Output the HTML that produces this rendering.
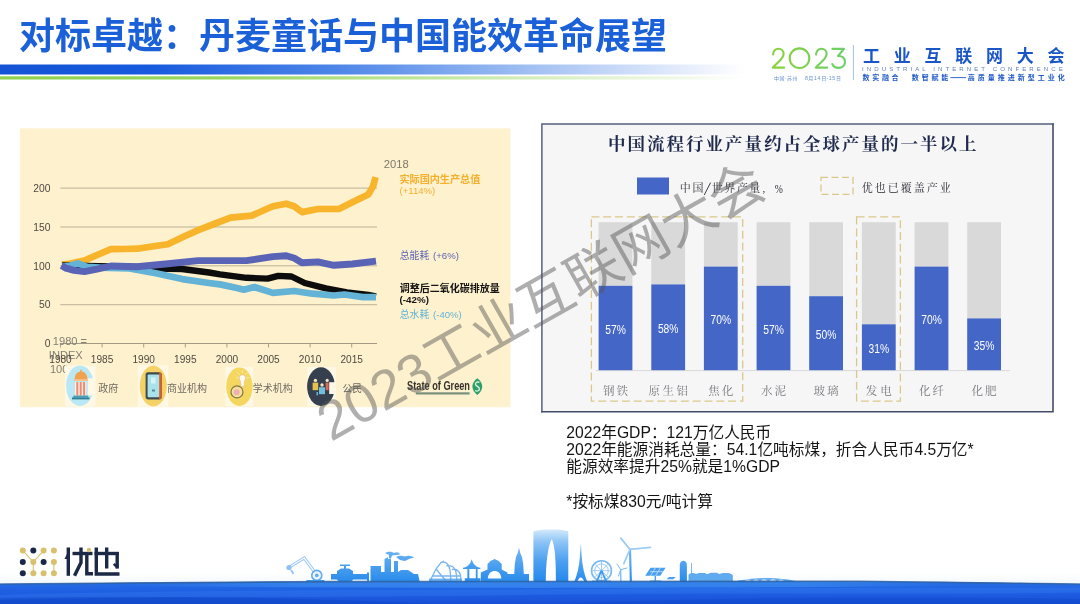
<!DOCTYPE html>
<html lang="zh"><head><meta charset="utf-8"><title>对标卓越：丹麦童话与中国能效革命展望</title>
<style>
html,body{margin:0;padding:0;background:#ffffff}
body{width:1080px;height:604px;overflow:hidden;position:relative;font-family:"Liberation Sans","Noto Sans CJK SC",sans-serif}
svg{position:absolute;left:0;top:0;display:block;will-change:transform}
svg text{font-family:"Liberation Sans","Noto Sans CJK SC",sans-serif}
</style></head><body>
<svg width="1080" height="604" viewBox="0 0 1080 604" font-family="Liberation Sans, Noto Sans CJK SC, sans-serif">
<defs>
<linearGradient id="gb" x1="0" x2="745" y1="0" y2="0" gradientUnits="userSpaceOnUse">
<stop offset="0" stop-color="#1454d4"/><stop offset="0.2" stop-color="#175ade"/><stop offset="0.45" stop-color="#4d85e8"/><stop offset="0.7" stop-color="#9dbdf2"/><stop offset="0.9" stop-color="#dfe9fb"/><stop offset="1" stop-color="#ffffff"/></linearGradient>
<linearGradient id="gg" x1="0" x2="745" y1="0" y2="0" gradientUnits="userSpaceOnUse">
<stop offset="0" stop-color="#8ed24e"/><stop offset="0.3" stop-color="#98d65e"/><stop offset="0.6" stop-color="#c4e8a2"/><stop offset="0.9" stop-color="#eef8e4"/><stop offset="1" stop-color="#ffffff"/></linearGradient>
<linearGradient id="g23" x1="771" x2="846" y1="0" y2="0" gradientUnits="userSpaceOnUse">
<stop offset="0" stop-color="#8ad23a"/><stop offset="1" stop-color="#6ccf6a"/></linearGradient>
<linearGradient id="sky" x1="0" x2="0" y1="525" y2="584" gradientUnits="userSpaceOnUse">
<stop offset="0" stop-color="#b4dafa"/><stop offset="0.5" stop-color="#62aef2"/><stop offset="1" stop-color="#2488ea"/></linearGradient>
<linearGradient id="gate" x1="0" x2="0" y1="528" y2="584" gradientUnits="userSpaceOnUse"><stop offset="0" stop-color="#dcedfc"/><stop offset="0.25" stop-color="#8cc4f6"/><stop offset="0.6" stop-color="#4a9ff0"/><stop offset="1" stop-color="#1f86ea"/></linearGradient>
<linearGradient id="band" x1="120" x2="960" y1="0" y2="0" gradientUnits="userSpaceOnUse"><stop offset="0" stop-color="#3d92f4" stop-opacity="0"/><stop offset="0.22" stop-color="#3d92f4" stop-opacity="1"/><stop offset="0.8" stop-color="#3d92f4" stop-opacity="1"/><stop offset="1" stop-color="#3d92f4" stop-opacity="0"/></linearGradient>
<linearGradient id="wave" x1="0" x2="0" y1="581" y2="604" gradientUnits="userSpaceOnUse">
<stop offset="0" stop-color="#2a6fdc"/><stop offset="0.25" stop-color="#2266e4"/><stop offset="0.6" stop-color="#1d5be0"/><stop offset="1" stop-color="#1850d6"/></linearGradient>
<linearGradient id="haze" x1="0" x2="0" y1="570" y2="584" gradientUnits="userSpaceOnUse">
<stop offset="0" stop-color="#ffffff" stop-opacity="0"/><stop offset="1" stop-color="#cfe4fa" stop-opacity="0.9"/></linearGradient>
</defs>
<rect x="0" y="64.5" width="745" height="10" fill="url(#gb)"/>
<rect x="0" y="76.3" width="745" height="3.2" fill="url(#gg)"/>
<text x="19" y="49.3" font-size="36" font-weight="bold" fill="#1a60d8" text-anchor="start">对标卓越：丹麦童话与中国能效革命展望</text>
<g fill="none" stroke="url(#g23)" stroke-width="2.1" stroke-linecap="round" stroke-linejoin="round"><path d="M773 54.5 C773.5 50.5 776 48.8 778.4 48.8 C781.5 48.8 783.6 51 783.6 53.8 C783.6 56.5 782 58.5 779.5 61 L772.8 67.6 L784.2 67.6"/><circle cx="799.5" cy="58.2" r="9.8"/><path d="M816 54.5 C816.5 50.5 819 48.8 821.4 48.8 C824.5 48.8 826.6 51 826.6 53.8 C826.6 56.5 825 58.5 822.5 61 L815.8 67.6 L827.2 67.6"/><path d="M832.5 48.9 L844 48.9 L838 56 C842 55.6 845 58 845 61.8 C845 65.3 842.3 67.9 838.6 67.9 C835.6 67.9 833.3 66.4 832.3 64"/></g>
<text x="774" y="79.6" font-size="5" fill="#5f8fd0" text-anchor="start" textLength="23.5" lengthAdjust="spacing">中国·苏州</text>
<text x="805.0" y="79.6" font-size="5.2" fill="#5f8fd0" text-anchor="start" font-weight="normal" xml:space="preserve" letter-spacing="0.5">8</text><text x="808.3" y="79.6" font-size="5" fill="#5f8fd0" text-anchor="start">月</text><text x="814.1" y="79.6" font-size="5.2" fill="#5f8fd0" text-anchor="start" font-weight="normal" xml:space="preserve" letter-spacing="0.5">14</text><text x="821.2" y="79.6" font-size="5" fill="#5f8fd0" text-anchor="start">日</text><text x="826.6" y="79.6" font-size="5.2" fill="#5f8fd0" text-anchor="start" font-weight="normal" xml:space="preserve" letter-spacing="0.5">-15</text><text x="836" y="79.6" font-size="5" fill="#5f8fd0" text-anchor="start">日</text>
<rect x="852.9" y="45" width="1" height="35" fill="#a9c3e6"/>
<text x="863" y="61.5" font-size="17" font-weight="bold" fill="#1a56c8" text-anchor="start" letter-spacing="13.75">工业互联网大会</text>
<text x="862.1" y="71.1" font-size="6.1" fill="#5f7fbe" text-anchor="start" font-weight="normal" textLength="200.7" lengthAdjust="spacing" xml:space="preserve">INDUSTRIAL INTERNET CONFERENCE</text>
<text x="862.5" y="80.2" font-size="7" font-weight="bold" fill="#1f5ac8" text-anchor="start" letter-spacing="2.7">数实融合</text>
<text x="911.8" y="80.2" font-size="7" font-weight="bold" fill="#1f5ac8" text-anchor="start" letter-spacing="2.85">数智赋能</text>
<rect x="950.5" y="77.2" width="15.5" height="0.9" fill="#1f5ac8"/>
<text x="967.8" y="80.2" font-size="7" font-weight="bold" fill="#1f5ac8" text-anchor="start" letter-spacing="3">高质量推进新型工业化</text>
<rect x="19.9" y="128.4" width="490.5" height="278.8" fill="#fef1cd"/>
<rect x="60.3" y="187.6" width="316.7" height="1" fill="#bbb299"/>
<rect x="60.3" y="226.5" width="316.7" height="1" fill="#bbb299"/>
<rect x="60.3" y="265.3" width="316.7" height="1" fill="#bbb299"/>
<rect x="60.3" y="304.2" width="316.7" height="1" fill="#bbb299"/>
<rect x="60.3" y="343.0" width="316.7" height="1" fill="#a39a84"/>
<text x="50.5" y="191.8" font-size="10.3" fill="#4e4a44" text-anchor="end" font-weight="normal" >200</text>
<text x="50.5" y="230.7" font-size="10.3" fill="#4e4a44" text-anchor="end" font-weight="normal" >150</text>
<text x="50.5" y="269.5" font-size="10.3" fill="#4e4a44" text-anchor="end" font-weight="normal" >100</text>
<text x="50.5" y="308.4" font-size="10.3" fill="#4e4a44" text-anchor="end" font-weight="normal" >50</text>
<text x="50.5" y="347.2" font-size="10.3" fill="#4e4a44" text-anchor="end" font-weight="normal" >0</text>
<rect x="60.0" y="343.5" width="1" height="4" fill="#a9a08c"/>
<rect x="101.6" y="343.5" width="1" height="4" fill="#a9a08c"/>
<rect x="143.2" y="343.5" width="1" height="4" fill="#a9a08c"/>
<rect x="184.8" y="343.5" width="1" height="4" fill="#a9a08c"/>
<rect x="226.4" y="343.5" width="1" height="4" fill="#a9a08c"/>
<rect x="268.0" y="343.5" width="1" height="4" fill="#a9a08c"/>
<rect x="309.6" y="343.5" width="1" height="4" fill="#a9a08c"/>
<rect x="351.2" y="343.5" width="1" height="4" fill="#a9a08c"/>
<text x="52.8" y="344.6" font-size="11.1" fill="#827f76" text-anchor="start" font-weight="normal" >1980 =</text>
<text x="48.8" y="358.9" font-size="11.1" fill="#827f76" text-anchor="start" font-weight="normal" >INDEX</text>
<text x="49.9" y="372.8" font-size="11.1" fill="#827f76" text-anchor="start" font-weight="normal" >100</text>
<text x="60.5" y="362.7" font-size="10.1" fill="#4e4a44" text-anchor="middle" font-weight="normal" >1980</text>
<text x="102.1" y="362.7" font-size="10.1" fill="#4e4a44" text-anchor="middle" font-weight="normal" >1985</text>
<text x="143.7" y="362.7" font-size="10.1" fill="#4e4a44" text-anchor="middle" font-weight="normal" >1990</text>
<text x="185.3" y="362.7" font-size="10.1" fill="#4e4a44" text-anchor="middle" font-weight="normal" >1995</text>
<text x="226.9" y="362.7" font-size="10.1" fill="#4e4a44" text-anchor="middle" font-weight="normal" >2000</text>
<text x="268.5" y="362.7" font-size="10.1" fill="#4e4a44" text-anchor="middle" font-weight="normal" >2005</text>
<text x="310.1" y="362.7" font-size="10.1" fill="#4e4a44" text-anchor="middle" font-weight="normal" >2010</text>
<text x="351.7" y="362.7" font-size="10.1" fill="#4e4a44" text-anchor="middle" font-weight="normal" >2015</text>
<path d="M62.0 264.5 L70.0 263.5 L84.4 260.6 L97.0 255.0 L110.9 249.2 L124.0 249.0 L137.3 248.7 L152.0 246.5 L167.8 244.2 L183.0 237.0 L198.2 230.1 L214.0 224.0 L230.6 217.7 L251.8 215.6 L272.9 206.3 L286.2 203.7 L294.1 206.3 L302.0 212.1 L318.0 209.0 L339.0 209.0 L352.3 202.3 L368.2 194.4 L373.0 186.5 L375.6 177.2" fill="none" stroke="#f8b42a" stroke-width="6.7" stroke-linejoin="round" stroke-linecap="butt" />
<path d="M62.0 265.5 L111.0 266.5 L137.0 267.0 L156.0 268.5 L182.0 269.0 L209.0 272.5 L220.0 274.3 L246.5 277.8 L267.6 278.6 L278.2 275.9 L291.5 276.5 L304.7 283.0 L325.9 288.4 L347.0 292.3 L368.2 295.0 L376.0 296.3" fill="none" stroke="#0c0c0c" stroke-width="6.4" stroke-linejoin="round" stroke-linecap="butt" />
<path d="M62.0 266.5 L70.0 265.8 L77.8 263.4 L87.0 266.8 L100.0 267.6 L129.4 268.5 L155.9 273.3 L182.3 279.1 L208.8 283.0 L220.0 284.4 L235.9 287.8 L243.8 289.7 L254.4 287.0 L272.9 292.9 L294.1 291.0 L312.6 293.7 L333.8 295.5 L344.4 294.5 L363.0 297.1 L376.0 297.1" fill="none" stroke="#62b3d6" stroke-width="6.7" stroke-linejoin="round" stroke-linecap="butt" />
<path d="M61.5 265.6 L66.0 268.2 L74.0 270.3 L84.4 271.6 L97.0 269.2 L111.0 266.0 L137.0 266.7 L168.0 263.8 L198.0 260.6 L220.0 260.6 L246.5 260.6 L272.9 256.6 L286.2 255.8 L294.0 258.0 L302.0 262.7 L318.0 261.9 L333.8 265.3 L352.3 264.0 L376.0 261.1" fill="none" stroke="#5a64b6" stroke-width="6.9" stroke-linejoin="round" stroke-linecap="butt" />
<text x="383.8" y="168.0" font-size="11.2" fill="#7d786c" text-anchor="start" font-weight="normal" >2018</text>
<text x="399.5" y="183" font-size="10.1" font-weight="bold" fill="#f5b030" text-anchor="start">实际国内生产总值</text>
<text x="399.5" y="193.8" font-size="9.6" fill="#f5b030" text-anchor="start" font-weight="normal" >(+114%)</text>
<text x="399.7" y="259.4" font-size="9.9" fill="#5a64b6" text-anchor="start">总能耗</text>
<text x="433.0" y="259.3" font-size="9.6" fill="#5a64b6" text-anchor="start" font-weight="normal" >(+6%)</text>
<text x="399.8" y="292.3" font-size="10" font-weight="bold" fill="#141414" text-anchor="start">调整后二氧化碳排放量</text>
<text x="399.5" y="303.4" font-size="9.8" fill="#141414" text-anchor="start" font-weight="bold" >(-42%)</text>
<text x="399.7" y="318.4" font-size="9.9" fill="#62b3d6" text-anchor="start">总水耗</text>
<text x="433.0" y="318.3" font-size="9.6" fill="#62b3d6" text-anchor="start" font-weight="normal" >(-40%)</text>
<rect x="65" y="365.3" width="30.5" height="41.2" fill="#fff8e6"/>
<ellipse cx="80" cy="385.7" rx="13.9" ry="20.2" fill="#b9e8f4"/>
<rect x="87.8" y="378.3" width="7.7" height="17.2" fill="#fff8e6"/>
<path d="M74.6 380 C74.6 374.5 77 371.5 81 371.5 C85 371.5 87.4 374.5 87.4 380Z" fill="#f2a24e"/><rect x="80.2" y="369.8" width="1.6" height="2.4" fill="#f2a24e"/><rect x="74" y="379.2" width="14" height="1.8" fill="#f7c48e"/><rect x="75" y="382" width="11.2" height="13.5" fill="#fbeee6"/><rect x="76.3" y="382" width="2" height="13.5" fill="#ee8a6e"/><rect x="79.7" y="382" width="2" height="13.5" fill="#ee8a6e"/><rect x="83.1" y="382" width="2" height="13.5" fill="#ee8a6e"/><rect x="73.3" y="395.6" width="15" height="1.8" fill="#4a9ab0"/><rect x="72" y="397.4" width="17.5" height="2" fill="#2f7f96"/>
<text x="98.2" y="392" font-size="10" fill="#6e6a64" text-anchor="start">政府</text>
<rect x="137.8" y="365.3" width="30.5" height="41.2" fill="#fff8e6"/>
<ellipse cx="153.3" cy="386" rx="13.5" ry="20.4" fill="#f4d265"/>
<rect x="145.6" y="372.2" width="16.2" height="27.2" rx="2.6" fill="#3f4a4c"/><path d="M159 372.2 L159.2 372.2 C160.7 372.2 161.8 373.4 161.8 374.8 L161.8 396.8 C161.8 398.3 160.7 399.4 159.2 399.4 L159 399.4Z" fill="#d2622f"/><rect x="147.6" y="374.4" width="11.6" height="22.8" rx="1" fill="#a9e2ea"/><rect x="151" y="377.5" width="4.5" height="6" fill="#d8f3f6"/><rect x="152" y="389.5" width="3" height="2" fill="#5a8a98"/>
<text x="167" y="392" font-size="10" fill="#6e6a64" text-anchor="start">商业机构</text>
<rect x="225.4" y="367" width="28" height="39.2" fill="#fff8e6"/>
<ellipse cx="239.4" cy="386.7" rx="13.2" ry="19.3" fill="#f5d760"/>
<circle cx="237" cy="391.9" r="6" fill="#f6df9a" stroke="#7f7a45" stroke-width="1.2"/><circle cx="236.6" cy="392.3" r="3" fill="#eeb0b0"/><path d="M242.4 374.8 C245.6 374.8 246.6 378.6 244.6 380.8 L244 386.5 L241 386.5 L240.3 380.8 C238.3 378.6 239.3 374.8 242.4 374.8Z" fill="#fffaf0" stroke="#e5b890" stroke-width="0.6"/><path d="M242.4 370.5 L242.4 373 M237.5 372.5 L239.2 374.5 M247.3 372.5 L245.6 374.5 M236 377.5 L238 377.8 M248.8 377.5 L246.8 377.8" stroke="#fbeec0" stroke-width="0.9" fill="none"/>
<text x="252.8" y="392" font-size="10" fill="#6e6a64" text-anchor="start">学术机构</text>
<rect x="307.4" y="367" width="28.6" height="39.2" fill="#fff8e6"/>
<ellipse cx="321" cy="386.6" rx="13.9" ry="19.3" fill="#353f4e"/>
<rect x="329.2" y="382.2" width="6.8" height="11.8" fill="#fff8e6"/>
<rect x="312.6" y="382.6" width="5.6" height="7.6" fill="#e6c04e"/><circle cx="315.4" cy="380.4" r="1.7" fill="#f3e6c6"/><rect x="319" y="387.2" width="6" height="7" fill="#6fbfdc"/><circle cx="322" cy="385" r="1.7" fill="#f3e6c6"/><rect x="325.6" y="382.6" width="3" height="7.6" fill="#d76a58"/><circle cx="327.2" cy="380.4" r="1.6" fill="#f3e6c6"/><rect x="316.5" y="392" width="1.4" height="3.4" fill="#6fbfdc"/>
<text x="342.4" y="392" font-size="9.8" fill="#6e6a64" text-anchor="start">公民</text>
<text x="407.1" y="389.7" font-size="12.9" fill="#37322c" text-anchor="start" font-weight="bold" textLength="62.9" lengthAdjust="spacingAndGlyphs">State of Green</text>
<rect x="415.8" y="392.3" width="53.8" height="2.2" fill="#56796a" opacity="0.8"/>
<path d="M477.3 378.2 C480.5 380.5 482.2 383.5 482.2 386.6 C482.2 389.8 480.5 392.7 477.3 395 C474.1 392.7 472.4 389.8 472.4 386.6 C472.4 383.5 474.1 380.5 477.3 378.2Z" fill="#2f9e68"/><path d="M479.4 382.4 C477.4 381.4 475.3 382.4 475.5 384.2 C475.8 386.6 479.6 386.4 479.4 389.2 C479.2 391 476.8 391.6 475.2 390.4" fill="none" stroke="#e3f5ea" stroke-width="1.3"/>
<rect x="541.9" y="123.9" width="511.1" height="287.8" fill="#f6f6f7"/>
<path d="M541.9 412.4 L541.9 123.9 L1053.7 123.9" fill="none" stroke="#566080" stroke-width="1.5"/>
<path d="M541.2 411.7 L1053 411.7 L1053 123.2" fill="none" stroke="#434d6a" stroke-width="1.6"/>
<text x="608" y="150.3" font-size="17.5" font-weight="bold" fill="#1f2a4d" text-anchor="start" letter-spacing="2" style="font-family:'Liberation Serif','Noto Serif CJK SC',serif">中国流程行业产量约占全球产量的一半以上</text>
<rect x="637" y="177.5" width="32" height="17" fill="#4466c6"/>
<text x="679.8" y="192.4" font-size="11" fill="#2a2a33" text-anchor="start" letter-spacing="1.7" style="font-family:'Liberation Serif','Noto Serif CJK SC',serif">中国</text>
<path d="M704.2 195 L710.6 182.6" stroke="#2a2a33" stroke-width="0.9" fill="none"/>
<text x="711.8" y="192.4" font-size="11" fill="#2a2a33" text-anchor="start" letter-spacing="1.5" style="font-family:'Liberation Serif','Noto Serif CJK SC',serif">世界产量</text>
<text x="762.5" y="192.4" font-size="11" fill="#2a2a33" font-family="Liberation Serif, serif" style="font-family:'Liberation Serif',serif">,</text>
<text transform="translate(774.8 192.6) scale(0.85 1)" font-size="11.5" fill="#2a2a33" style="font-family:'Liberation Serif',serif">%</text>
<rect x="821" y="177.4" width="32" height="17" fill="none" stroke="#dcc78b" stroke-width="1.3" stroke-dasharray="7 3.5"/>
<text x="861.8" y="192.4" font-size="11" fill="#2a2a33" text-anchor="start" letter-spacing="2" style="font-family:'Liberation Serif','Noto Serif CJK SC',serif">优也已覆盖产业</text>
<rect x="596" y="370.2" width="414" height="0.9" fill="#d5d5d8"/>
<rect x="598.6" y="222.2" width="33.8" height="63.6" fill="#d9d9d9"/>
<rect x="598.6" y="285.8" width="33.8" height="84.4" fill="#4466c6"/>
<text transform="translate(615.5 333.6) scale(0.78 1)" font-size="13.2" fill="#ffffff" text-anchor="middle">57%</text>
<text x="616.5" y="394.6" font-size="11.5" fill="#77777c" text-anchor="middle" letter-spacing="2" style="font-family:'Liberation Serif','Noto Serif CJK SC',serif">钢铁</text>
<rect x="651.3" y="222.2" width="33.8" height="62.2" fill="#d9d9d9"/>
<rect x="651.3" y="284.4" width="33.8" height="85.8" fill="#4466c6"/>
<text transform="translate(668.2 332.9) scale(0.78 1)" font-size="13.2" fill="#ffffff" text-anchor="middle">58%</text>
<text x="669.4" y="394.6" font-size="11.5" fill="#77777c" text-anchor="middle" letter-spacing="2.5" style="font-family:'Liberation Serif','Noto Serif CJK SC',serif">原生铝</text>
<rect x="703.9" y="222.2" width="33.8" height="44.4" fill="#d9d9d9"/>
<rect x="703.9" y="266.6" width="33.8" height="103.6" fill="#4466c6"/>
<text transform="translate(720.8 324.0) scale(0.78 1)" font-size="13.2" fill="#ffffff" text-anchor="middle">70%</text>
<text x="721.8" y="394.6" font-size="11.5" fill="#77777c" text-anchor="middle" letter-spacing="2" style="font-family:'Liberation Serif','Noto Serif CJK SC',serif">焦化</text>
<rect x="756.6" y="222.2" width="33.8" height="63.6" fill="#d9d9d9"/>
<rect x="756.6" y="285.8" width="33.8" height="84.4" fill="#4466c6"/>
<text transform="translate(773.5 333.6) scale(0.78 1)" font-size="13.2" fill="#ffffff" text-anchor="middle">57%</text>
<text x="774.5" y="394.6" font-size="11.5" fill="#77777c" text-anchor="middle" letter-spacing="2" style="font-family:'Liberation Serif','Noto Serif CJK SC',serif">水泥</text>
<rect x="809.2" y="222.2" width="33.8" height="74.0" fill="#d9d9d9"/>
<rect x="809.2" y="296.2" width="33.8" height="74.0" fill="#4466c6"/>
<text transform="translate(826.1 338.8) scale(0.78 1)" font-size="13.2" fill="#ffffff" text-anchor="middle">50%</text>
<text x="827.1" y="394.6" font-size="11.5" fill="#77777c" text-anchor="middle" letter-spacing="2" style="font-family:'Liberation Serif','Noto Serif CJK SC',serif">玻璃</text>
<rect x="861.9" y="222.2" width="33.8" height="102.1" fill="#d9d9d9"/>
<rect x="861.9" y="324.3" width="33.8" height="45.9" fill="#4466c6"/>
<text transform="translate(878.8 352.9) scale(0.78 1)" font-size="13.2" fill="#ffffff" text-anchor="middle">31%</text>
<text x="880.3" y="394.6" font-size="11.5" fill="#77777c" text-anchor="middle" letter-spacing="3" style="font-family:'Liberation Serif','Noto Serif CJK SC',serif">发电</text>
<rect x="914.6" y="222.2" width="33.8" height="44.4" fill="#d9d9d9"/>
<rect x="914.6" y="266.6" width="33.8" height="103.6" fill="#4466c6"/>
<text transform="translate(931.5 324.0) scale(0.78 1)" font-size="13.2" fill="#ffffff" text-anchor="middle">70%</text>
<text x="932.5" y="394.6" font-size="11.5" fill="#77777c" text-anchor="middle" letter-spacing="2" style="font-family:'Liberation Serif','Noto Serif CJK SC',serif">化纤</text>
<rect x="967.2" y="222.2" width="33.8" height="96.2" fill="#d9d9d9"/>
<rect x="967.2" y="318.4" width="33.8" height="51.8" fill="#4466c6"/>
<text transform="translate(984.1 349.9) scale(0.78 1)" font-size="13.2" fill="#ffffff" text-anchor="middle">35%</text>
<text x="985.1" y="394.6" font-size="11.5" fill="#77777c" text-anchor="middle" letter-spacing="2" style="font-family:'Liberation Serif','Noto Serif CJK SC',serif">化肥</text>
<rect x="591.4" y="216.8" width="151.3" height="184.3" fill="none" stroke="#dcc78b" stroke-width="1.3" stroke-dasharray="8 3.8"/>
<rect x="856.6" y="216.8" width="43.8" height="184.3" fill="none" stroke="#dcc78b" stroke-width="1.3" stroke-dasharray="8 3.8"/>
<text x="566.3" y="438.0" font-size="15.7" fill="#141414" text-anchor="start" font-weight="normal" xml:space="preserve" letter-spacing="0">2022</text><text x="601.2" y="438.0" font-size="15.7" fill="#141414" text-anchor="start">年</text><text x="616.9" y="438.0" font-size="15.7" fill="#141414" text-anchor="start" font-weight="normal" xml:space="preserve" letter-spacing="0">GDP</text><text x="650.9" y="438.0" font-size="15.7" fill="#141414" text-anchor="start">：</text><text x="666.6" y="438.0" font-size="15.7" fill="#141414" text-anchor="start" font-weight="normal" xml:space="preserve" letter-spacing="0">121</text><text x="692.8" y="438.0" font-size="15.7" fill="#141414" text-anchor="start">万亿人民币</text>
<text x="566.3" y="455.1" font-size="15.7" fill="#141414" text-anchor="start" font-weight="normal" xml:space="preserve" letter-spacing="0">2022</text><text x="601.2" y="455.1" font-size="15.7" fill="#141414" text-anchor="start">年能源消耗总量：</text><text x="726.8" y="455.1" font-size="15.7" fill="#141414" text-anchor="start" font-weight="normal" xml:space="preserve" letter-spacing="0">54.1</text><text x="757.4" y="455.1" font-size="15.7" fill="#141414" text-anchor="start">亿吨标煤，折合人民币</text><text x="914.4" y="455.1" font-size="15.7" fill="#141414" text-anchor="start" font-weight="normal" xml:space="preserve" letter-spacing="0">4.5</text><text x="936.2" y="455.1" font-size="15.7" fill="#141414" text-anchor="start">万亿</text><text x="967.6" y="455.1" font-size="15.7" fill="#141414" text-anchor="start" font-weight="normal" xml:space="preserve" letter-spacing="0">*</text>
<text x="566.3" y="472.0" font-size="15.7" fill="#141414" text-anchor="start">能源效率提升</text><text x="660.5" y="472.0" font-size="15.7" fill="#141414" text-anchor="start" font-weight="normal" xml:space="preserve" letter-spacing="0">25%</text><text x="691.9" y="472.0" font-size="15.7" fill="#141414" text-anchor="start">就是</text><text x="723.3" y="472.0" font-size="15.7" fill="#141414" text-anchor="start" font-weight="normal" xml:space="preserve" letter-spacing="0">1%GDP</text>
<text x="566.3" y="506.8" font-size="15.7" fill="#141414" text-anchor="start" font-weight="normal" xml:space="preserve" letter-spacing="0">*</text><text x="572.4" y="506.8" font-size="15.7" fill="#141414" text-anchor="start">按标煤</text><text x="619.5" y="506.8" font-size="15.7" fill="#141414" text-anchor="start" font-weight="normal" xml:space="preserve" letter-spacing="0">830</text><text x="645.7" y="506.8" font-size="15.7" fill="#141414" text-anchor="start">元</text><text x="661.4" y="506.8" font-size="15.7" fill="#141414" text-anchor="start" font-weight="normal" xml:space="preserve" letter-spacing="0">/</text><text x="665.8" y="506.8" font-size="15.7" fill="#141414" text-anchor="start">吨计算</text>
<g transform="translate(331 442) rotate(-29.5)"><text x="0" y="0" font-size="54.6" fill="#555555" fill-opacity="0.47" text-anchor="start">2023工业互联网大会</text></g>
<rect x="0" y="570" width="1080" height="14" fill="url(#haze)" opacity="0.4"/><g stroke="#d9c06c" stroke-width="1.1" fill="none"><path d="M22.8 550.6 L33.3 562 L43.6 550.6 M33.3 562 L33.3 573.3 M53.9 562 L53.9 573.3"/></g><circle cx="22.8" cy="550.6" r="3" fill="#d9c06c"/><circle cx="33.3" cy="550.6" r="3" fill="#1b2947"/><circle cx="43.6" cy="550.6" r="3" fill="#d9c06c"/><circle cx="53.9" cy="550.6" r="3" fill="#d9c06c"/><circle cx="22.8" cy="562" r="3" fill="#1b2947"/><circle cx="33.3" cy="562" r="3" fill="#d9c06c"/><circle cx="43.6" cy="562" r="3" fill="#1b2947"/><circle cx="53.9" cy="562" r="3" fill="#d9c06c"/><circle cx="22.8" cy="573.3" r="3" fill="#1b2947"/><circle cx="33.3" cy="573.3" r="3" fill="#d9c06c"/><circle cx="43.6" cy="573.3" r="3" fill="#d9c06c"/><circle cx="53.9" cy="573.3" r="3" fill="#d9c06c"/><g fill="none" stroke="#1b2947" stroke-width="3.4" stroke-linejoin="miter"><path d="M68.3 547.5 L68.3 575.8"/><path d="M72.5 553.5 L92.5 553.5"/><path d="M81 547.5 L81 562.5 L74.5 575.8"/><path d="M86.8 553.5 L86.8 573.8 L93 573.8"/><path d="M94.5 553.5 L119 553.5"/><path d="M96.3 547.5 L96.3 574 L119.5 574"/><path d="M106.7 547.5 L106.7 568.5"/><path d="M117.2 553.5 L117.2 568.6"/><path d="M117.6 567.6 L113.8 563.8" stroke-width="2.6"/></g><path d="M64.5 559 L70 547.5 L70 559Z" fill="#1b2947"/><circle cx="88.9" cy="550" r="2.2" fill="#d9c06c"/><g fill="none" stroke="#8cc2f4" stroke-width="3" stroke-linecap="round"><path d="M289.5 567 L304.3 558 L316 574"/></g><g fill="none" stroke="#f2f8fe" stroke-width="1.4" stroke-linecap="round"><path d="M289.5 567 L304.3 558 L316 574"/></g><circle cx="289" cy="567.5" r="2.6" fill="#8cc2f4"/><path d="M291 570 L293.5 574" stroke="#8cc2f4" stroke-width="1.6"/><circle cx="316.8" cy="575.4" r="5" fill="#eef6fe" stroke="#5fabf0" stroke-width="1.6"/><circle cx="316.8" cy="575.4" r="1.8" fill="#5fabf0"/><rect x="306.4" y="580" width="18" height="3" fill="#3f9aee"/><path d="M331 574 L337 574 L337 571 L341 568.5 L344 568.5 L344 566 L340 566 L340 564.5 L350 564.5 L350 566 L346 566 L346 568.5 L349 568.5 L353 571 L353 574 L367 574 L367 572.5 L369 572.5 L369 581 L367 581 L367 579.5 L353 579.5 L353 580 L349 583 L341 583 L337 580 L337 579.5 L331 579.5Z" fill="url(#sky)"/><path d="M370.5 566 L381 566 L381 572 L384.5 572 L384.5 559 L388 557 L388 559 L391 559 L391 572 L394 572 L394 561 L398 561 L398 572 L401 570 L408 570 L414 574 L418 574 L420 583 L370.5 583Z" fill="url(#sky)"/><path d="M385 553 C388 551 392 551.5 394 553 C397 551.5 399 552.5 400 554.5 L392 555.5 L391 558.5 L389 558.5 L389 555Z" fill="url(#sky)"/><path d="M396 557 C399 555 403 555.5 405 556.5 C408 555 412 556 414 557.5 L409 559 L405 561 L400 560Z" fill="url(#sky)"/><g fill="none" stroke="#5fa8ee" stroke-width="1.3" opacity="0.85"><path d="M430 581 L436 569 L441 562.5 L444 561 M436 569 L446 581 M441 562.5 C446 561 449 564 450 570 L451 581 M446 566 C451 564.5 455 567 456 572 L457 581 M452 569.5 C456 568.5 459.5 571 460.5 575 L461 581 M432 576 L460 576"/></g><rect x="429" y="578.6" width="33" height="3.6" fill="#4a9eee" opacity="0.8"/><path d="M463 567.8 C467 567.2 470.2 564.5 471.7 559.2 C473.2 564.5 476.4 567.2 480.4 567.8 L480.4 569 L477.6 569 L477.6 578.3 L480.5 578.3 L480.5 583 L464.8 583 L464.8 578.3 L467.4 578.3 L467.4 569 L463 569Z M469.3 569 L469.3 578.3 L475.8 578.3 L475.8 569Z" fill-rule="evenodd" fill="url(#sky)"/><path fill-rule="evenodd" d="M480.8 583 L480.8 572.5 L487.5 569.5 L487.5 564 L490.5 561 L494.6 559 L498.7 561 L501.7 564 L501.7 569.5 L507.5 572.5 L507.5 574 L529 574 L529 583Z M487.8 578.4 C488.5 573 491 571 494.6 571 C498.2 571 500.7 573 501.4 578.4Z" fill="url(#sky)"/><path d="M514.2 574.5 L514.8 564 L516 557 L517.8 552.8 L519 547.5 L520.2 552.8 L522 557 L523.2 564 L523.8 574.5Z" fill="url(#sky)"/><path fill-rule="evenodd" d="M533.4 583 L533.4 531.5 C539 529.6 546 529.2 551 529.6 C557 529.2 563.5 529.8 568.3 531 L568.3 583Z M545.8 583 C545.8 562 548 546 551.7 539 C555.2 546 556 562 555.9 583Z" fill="url(#gate)"/><path d="M580.8 543 L581.7 556 C582.4 566 584.5 576 588 583 L584.6 583 C583.6 579.5 582.4 577.6 580.8 577.6 C579.2 577.6 578 579.5 577 583 L573.6 583 C577.1 576 579.2 566 579.9 556Z" fill="url(#sky)"/><g fill="none" stroke="#7ab8f2"><circle cx="601.5" cy="570.7" r="10" stroke-width="1.5"/><circle cx="601.5" cy="570.7" r="6.8" stroke-width="0.7"/><path d="M601.5 560.7 L601.5 580.7 M591.5 570.7 L611.5 570.7 M594.4 563.6 L608.6 577.8 M608.6 563.6 L594.4 577.8" stroke-width="0.7"/></g><g fill="none" stroke="#3f97ec"><path d="M601.5 570.7 L596 583 M601.5 570.7 L607 583" stroke-width="1.7"/></g><rect x="592" y="580.6" width="19" height="2.4" fill="#3f97ec"/><g fill="none" stroke-linecap="round"><path d="M630 549.4 L630.9 583" stroke="url(#sky)" stroke-width="2.1"/><path d="M630 549.4 L620.7 538.1 M630 549.4 L650.3 547.3 M630 549.4 L623.8 563.6" stroke="#9ccbf6" stroke-width="1.7"/></g><g stroke="url(#sky)" fill="none" stroke-linecap="round" opacity="0.7"><path d="M620.7 569.7 L620.9 583" stroke-width="1.2"/><path d="M620.7 569.7 L617 564 M620.7 569.7 L627 568 M620.7 569.7 L618.5 576" stroke-width="1"/></g><path d="M645.2 575.8 L650.5 567.7 L665.6 567.7 L660.3 575.8Z" fill="#4a9fee"/><path d="M650 571.7 L663 571.7 M655.5 567.7 L650.5 575.8 M660.5 567.7 L655.5 575.8" stroke="#d8ebfc" stroke-width="0.7" fill="none"/><path d="M654.6 575.8 L654.6 580.6 L656 580.6 L656 575.8Z M650 580.4 L661 580.4 L661 581.8 L650 581.8Z M666.6 579.3 L669 576.9 L675.7 576.9 L673.3 579.3Z" fill="#4a9fee"/><path d="M679.8 582 L679.8 565 C679.8 559.2 686.9 559.2 686.9 565 L686.9 582Z" fill="url(#sky)"/><path d="M691.5 574 L691.5 563" stroke="#6fb2f0" stroke-width="0.9" fill="none"/><path d="M688.5 582 L688.5 575 C690 572.8 694 572.6 696 574 L699 573 L705 573 L707 574.2 L711 572.8 L717 572.8 L719 574 L723 573 L729 573 L732.8 575 L732.8 582Z" fill="#4fa2ee" opacity="0.9"/><path d="M738 582.5 L738 580.6 C748 579 758 577.9 767 577.9 C777 577.9 788 579.2 796 581 L796 582.5Z" fill="#4a9fee" opacity="0.85"/><path d="M745 582 A3 2.4 0 0 1 751 582 M753 582 A3 2.6 0 0 1 759 582 M761 582 A3.2 2.8 0 0 1 767.4 582 M769.5 582 A3.2 2.8 0 0 1 776 582 M778 582 A3 2.5 0 0 1 784 582" fill="#e6f2fd" opacity="0.8"/><path d="M0 584 C120 582.6 230 581.6 330 581.6 C520 581.8 700 581.2 860 581.3 C940 581.6 1010 582.6 1080 584 L1080 604 L0 604Z" fill="url(#wave)"/><path d="M120 582.8 C400 581.2 650 581.2 960 582.4 L960 586 C650 588.5 400 588.5 120 586Z" fill="url(#band)" opacity="0.6"/><path d="M0 584 C120 582.6 230 581.6 330 581.6 C520 581.8 700 581.2 860 581.3 C940 581.6 1010 582.6 1080 584" fill="none" stroke="#2f5f96" stroke-width="1.6" opacity="0.75"/><path d="M0 595 C200 589 420 591 640 588.5 C800 587 950 589 1080 587.5 L1080 592.5 C900 595 700 592 520 595 C350 598 150 596 0 600Z" fill="#3b86f5" opacity="0.3"/><path d="M0 598 C150 596 300 597 430 604 L0 604Z" fill="#0d44c4" opacity="0.45"/><path d="M560 604 C700 597 900 596 1080 599 L1080 604Z" fill="#0f47c8" opacity="0.4"/>
</svg>
</body></html>
